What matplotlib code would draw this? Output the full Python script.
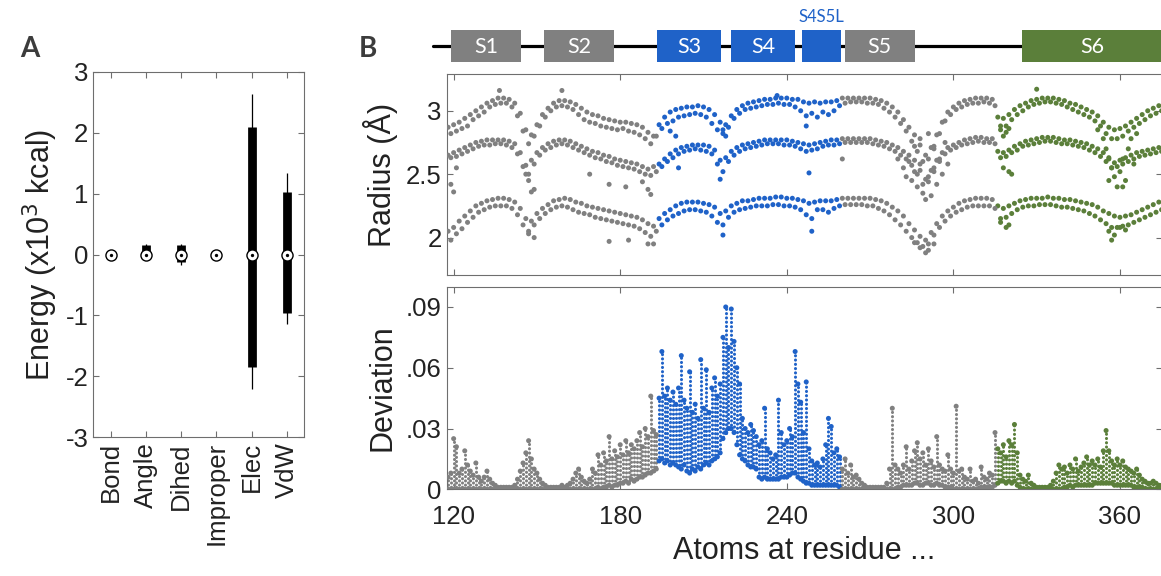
import numpy as np
import matplotlib
matplotlib.use("Agg")
import matplotlib.pyplot as plt
from matplotlib.patches import Rectangle

plt.rcParams['font.family'] = ['Liberation Sans', 'DejaVu Sans']

GRAY = '#808080'
BLUE = '#1f62c8'
GREEN = '#5b7f3a'
AXC = '#6e6e6e'

# ---------------- panel A: energy terms (x10^3 kcal) ----------------
energy_terms = ['Bond', 'Angle', 'Dihed', 'Improper', 'Elec', 'VdW']
box_lo = [-0.01, -0.03, -0.12, -0.01, -1.84, -0.955]
box_hi = [0.01, 0.15, 0.15, 0.01, 2.09, 1.02]
whisk_lo = [-0.02, -0.05, -0.17, -0.02, -2.20, -1.14]
whisk_hi = [0.05, 0.18, 0.18, 0.03, 2.63, 1.33]
medians = [0, 0, 0, 0, 0, 0]

# ---------------- panel B: domains ----------------
dom_names = ['S1', 'S2', 'S3', 'S4', '', 'S5', 'S6']
dom_start = [119.1, 152.6, 193.1, 219.9, 245.3, 260.8, 324.8]
dom_end = [144.1, 177.8, 216.4, 243.0, 259.6, 286.2, 385.0]
dom_colors = [GRAY, GRAY, BLUE, BLUE, BLUE, GRAY, GREEN]
linker_name = 'S4S5L'

# residue ranges coloured by domain group
seg_edges = [194, 260, 316]
seg_colors = [GRAY, BLUE, GRAY, GREEN]

# ---------------- radius bands (Angstrom) ----------------
res_even = np.arange(118, 375, 2)
res_odd = np.arange(119, 376, 2)

top_hi = [2.87, 2.89, 2.91, 2.94, 2.97, 3.00, 3.03, 3.06, 3.08, 3.10, 3.10, 3.09, 3.06, 2.98, 2.85, 2.81,
          2.89, 2.97, 3.02, 3.06, 3.08, 3.08, 3.07, 3.05, 3.02, 2.99, 2.97, 2.96, 2.94, 2.93, 2.92, 2.91,
          2.91, 2.90, 2.89, 2.87, 2.83, 2.80, 2.89, 2.95, 2.99, 3.01, 3.02, 3.03, 3.03, 3.04, 3.03, 3.01,
          2.97, 2.91, 2.89, 2.96, 3.01, 3.04, 3.06, 3.07, 3.08, 3.09, 3.09, 3.10, 3.10, 3.10, 3.09, 3.09,
          3.07, 3.06, 3.07, 3.06, 3.07, 3.07, 3.08, 3.10, 3.10, 3.10, 3.10, 3.10, 3.10, 3.09, 3.08, 3.06,
          3.03, 2.99, 2.93, 2.87, 2.81, 2.73, 2.65, 2.71, 2.81, 2.91, 2.99, 3.03, 3.06, 3.08, 3.09, 3.10,
          3.10, 3.10, 3.09, 2.95, 2.94, 2.97, 3.01, 3.04, 3.06, 3.08, 3.09, 3.10, 3.10, 3.10, 3.09, 3.08,
          3.06, 3.05, 3.03, 3.01, 2.99, 2.96, 2.91, 2.87, 2.85, 2.86, 2.88, 2.91, 2.94, 2.97, 3.00, 3.02,
          3.04]
top_lo = [2.82, 2.84, 2.86, 2.88, 2.93, 2.96, 2.99, 3.03, 3.05, 3.06, 3.06, 3.03, 2.96, 2.84, 2.74, 2.80,
          2.88, 2.95, 3.00, 3.03, 3.04, 3.03, 3.01, 2.97, 2.93, 2.91, 2.90, 2.88, 2.87, 2.86, 2.85, 2.86,
          2.84, 2.83, 2.81, 2.78, 2.74, 2.80, 2.86, 2.90, 2.92, 2.95, 2.96, 2.97, 2.98, 2.97, 2.95, 2.90,
          2.85, 2.82, 2.87, 2.94, 2.98, 3.01, 3.02, 3.03, 3.04, 3.05, 3.05, 3.06, 3.05, 3.05, 3.03, 3.00,
          2.96, 2.98, 2.95, 2.99, 2.97, 3.00, 3.04, 3.06, 3.07, 3.07, 3.07, 3.06, 3.06, 3.05, 3.02, 2.99,
          2.95, 2.90, 2.84, 2.76, 2.68, 2.60, 2.62, 2.72, 2.82, 2.92, 2.97, 3.01, 3.03, 3.05, 3.06, 3.06,
          3.07, 3.06, 3.04, 2.88, 2.88, 2.93, 2.97, 3.00, 3.03, 3.05, 3.06, 3.07, 3.07, 3.06, 3.05, 3.03,
          3.01, 2.99, 2.97, 2.95, 2.92, 2.88, 2.82, 2.78, 2.78, 2.80, 2.84, 2.87, 2.90, 2.93, 2.96, 2.98,
          3.00]
mid_hi = [2.65, 2.67, 2.69, 2.71, 2.73, 2.75, 2.76, 2.77, 2.77, 2.77, 2.77, 2.76, 2.74, 2.67, 2.57, 2.61,
          2.67, 2.71, 2.74, 2.76, 2.77, 2.77, 2.76, 2.74, 2.72, 2.70, 2.68, 2.67, 2.65, 2.64, 2.62, 2.61,
          2.60, 2.59, 2.58, 2.56, 2.54, 2.56, 2.58, 2.62, 2.66, 2.69, 2.71, 2.72, 2.73, 2.73, 2.73, 2.72,
          2.69, 2.61, 2.63, 2.68, 2.71, 2.73, 2.74, 2.75, 2.76, 2.77, 2.77, 2.77, 2.77, 2.77, 2.76, 2.75,
          2.74, 2.73, 2.74, 2.75, 2.76, 2.77, 2.77, 2.78, 2.78, 2.78, 2.78, 2.78, 2.78, 2.77, 2.76, 2.75,
          2.73, 2.71, 2.68, 2.65, 2.61, 2.53, 2.46, 2.53, 2.61, 2.67, 2.71, 2.73, 2.75, 2.77, 2.78, 2.79,
          2.79, 2.78, 2.78, 2.68, 2.67, 2.69, 2.72, 2.74, 2.76, 2.77, 2.78, 2.79, 2.79, 2.79, 2.78, 2.77,
          2.77, 2.76, 2.75, 2.74, 2.72, 2.70, 2.67, 2.63, 2.59, 2.61, 2.63, 2.65, 2.67, 2.68, 2.69, 2.70,
          2.71]
mid_lo = [2.63, 2.64, 2.66, 2.68, 2.70, 2.72, 2.73, 2.73, 2.74, 2.74, 2.73, 2.71, 2.66, 2.56, 2.50, 2.58,
          2.65, 2.69, 2.71, 2.73, 2.74, 2.73, 2.71, 2.69, 2.67, 2.65, 2.63, 2.62, 2.60, 2.59, 2.57, 2.56,
          2.55, 2.54, 2.52, 2.50, 2.49, 2.52, 2.56, 2.60, 2.63, 2.66, 2.68, 2.69, 2.70, 2.69, 2.68, 2.66,
          2.58, 2.52, 2.60, 2.65, 2.68, 2.70, 2.71, 2.72, 2.73, 2.74, 2.74, 2.74, 2.73, 2.73, 2.72, 2.70,
          2.68, 2.69, 2.70, 2.72, 2.73, 2.73, 2.74, 2.75, 2.75, 2.75, 2.75, 2.75, 2.74, 2.73, 2.72, 2.70,
          2.68, 2.65, 2.62, 2.57, 2.50, 2.42, 2.44, 2.52, 2.60, 2.66, 2.69, 2.71, 2.73, 2.74, 2.75, 2.76,
          2.75, 2.75, 2.74, 2.63, 2.64, 2.67, 2.69, 2.72, 2.73, 2.74, 2.75, 2.76, 2.76, 2.75, 2.74, 2.74,
          2.73, 2.72, 2.71, 2.69, 2.67, 2.64, 2.60, 2.55, 2.56, 2.58, 2.60, 2.62, 2.64, 2.65, 2.66, 2.67,
          2.68]
low_hi = [2.05, 2.08, 2.13, 2.17, 2.21, 2.25, 2.27, 2.29, 2.30, 2.31, 2.31, 2.30, 2.28, 2.23, 2.15, 2.13,
          2.19, 2.23, 2.26, 2.29, 2.30, 2.31, 2.30, 2.28, 2.27, 2.25, 2.24, 2.23, 2.22, 2.21, 2.20, 2.19,
          2.18, 2.17, 2.16, 2.14, 2.11, 2.09, 2.15, 2.19, 2.22, 2.25, 2.27, 2.28, 2.28, 2.28, 2.27, 2.26,
          2.24, 2.19, 2.21, 2.25, 2.27, 2.29, 2.29, 2.30, 2.31, 2.31, 2.31, 2.32, 2.32, 2.31, 2.31, 2.30,
          2.29, 2.27, 2.28, 2.29, 2.29, 2.29, 2.30, 2.31, 2.31, 2.31, 2.31, 2.31, 2.31, 2.30, 2.29, 2.27,
          2.24, 2.21, 2.17, 2.11, 2.06, 2.01, 1.98, 2.04, 2.11, 2.17, 2.21, 2.24, 2.27, 2.29, 2.30, 2.31,
          2.31, 2.31, 2.30, 2.25, 2.23, 2.25, 2.27, 2.29, 2.30, 2.31, 2.31, 2.31, 2.32, 2.31, 2.31, 2.30,
          2.30, 2.29, 2.28, 2.27, 2.26, 2.24, 2.21, 2.19, 2.17, 2.16, 2.17, 2.18, 2.20, 2.22, 2.24, 2.26,
          2.28]
low_lo = [1.98, 2.03, 2.07, 2.12, 2.16, 2.20, 2.22, 2.24, 2.25, 2.25, 2.25, 2.23, 2.18, 2.10, 2.05, 2.10,
          2.15, 2.19, 2.22, 2.24, 2.25, 2.24, 2.22, 2.20, 2.19, 2.18, 2.16, 2.15, 2.14, 2.13, 2.12, 2.11,
          2.10, 2.09, 2.07, 2.04, 2.01, 2.05, 2.10, 2.14, 2.17, 2.19, 2.21, 2.22, 2.22, 2.21, 2.20, 2.17,
          2.12, 2.10, 2.16, 2.20, 2.22, 2.23, 2.24, 2.25, 2.25, 2.25, 2.26, 2.26, 2.25, 2.25, 2.24, 2.22,
          2.18, 2.15, 2.22, 2.22, 2.20, 2.23, 2.25, 2.26, 2.26, 2.26, 2.26, 2.25, 2.25, 2.23, 2.21, 2.18,
          2.14, 2.10, 2.05, 2.00, 1.96, 1.93, 1.95, 2.02, 2.08, 2.13, 2.17, 2.20, 2.22, 2.24, 2.25, 2.25,
          2.25, 2.25, 2.23, 2.15, 2.16, 2.19, 2.22, 2.24, 2.25, 2.25, 2.26, 2.26, 2.26, 2.25, 2.24, 2.24,
          2.23, 2.22, 2.21, 2.19, 2.17, 2.14, 2.11, 2.08, 2.08, 2.09, 2.10, 2.12, 2.14, 2.16, 2.18, 2.20,
          2.22]

# scattered atoms away from the bands
extra_res = [119, 120, 121, 136.5, 146, 147, 148, 149, 147, 149,
             169, 176, 182, 188, 190, 191, 176, 183, 190, 192,
             159, 198, 201, 200, 216, 217, 218, 217, 236.5, 248,
             249, 247, 260, 280, 282, 283, 284, 285, 286, 287,
             288, 289, 290, 291, 292, 293, 294, 295, 296, 297,
             298, 286, 288, 291, 293, 286, 288, 290, 291, 293,
             317, 318, 319, 320, 318, 320, 321, 317, 319, 320,
             330, 352, 354, 355, 356, 357, 358, 360, 361, 362,
             363, 364, 365, 366, 359, 356, 361, 356, 357, 358,
             360, 362]
extra_radius = [2.42, 2.36, 2.55, 3.16, 2.50, 2.45, 2.36, 2.38, 2.03, 2.00,
                2.50, 2.42, 2.40, 2.44, 2.38, 2.34, 1.97, 1.98, 1.95, 1.95,
                3.16, 2.84, 2.55, 2.80, 2.46, 2.02, 2.80, 2.85, 3.12, 2.51,
                2.05, 2.88, 2.62, 2.62, 2.55, 2.48, 2.60, 2.45, 2.52, 2.40,
                2.58, 2.35, 2.30, 2.48, 2.33, 2.55, 2.42, 2.62, 2.50, 2.75,
                2.58, 2.72, 2.78, 2.82, 2.70, 1.96, 1.92, 1.88, 1.90, 1.95,
                2.85, 2.80, 2.83, 2.86, 2.55, 2.52, 2.50, 2.12, 2.08, 2.10,
                3.17, 2.85, 2.78, 2.70, 2.62, 2.55, 2.48, 2.52, 2.62, 2.45,
                2.70, 2.78, 2.58, 2.82, 2.40, 2.45, 2.40, 2.05, 1.98, 2.02,
                2.08, 2.06]

# ---------------- deviation per residue (x1e-3) ----------------
res_all = np.arange(118, 376)
dev_hi = [6, 8,
          25, 21, 8, 10, 19, 12, 9, 7, 13, 6,
          4, 6, 9, 5, 3, 2, 1, 1, 1, 1,
          1, 1, 2, 5, 9, 13, 18, 24, 15, 10,
          8, 5, 3, 2, 1, 1, 1, 1, 1, 2,
          1, 2, 3, 5, 8, 10, 6, 4, 3, 5,
          10, 8, 17, 12, 18, 14, 26, 15, 19, 16,
          22, 17, 24, 18, 22, 20, 24, 28, 21, 30,
          26, 46, 29, 27, 45, 68, 46, 50, 44, 48,
          42, 50, 66, 44, 40, 58, 38, 42, 35, 64,
          40, 59, 38, 50, 55, 46, 52, 75, 90, 70,
          89, 73, 60, 52, 35, 30, 28, 32, 29, 26,
          22, 24, 40, 20, 18, 15, 17, 44, 28, 22,
          24, 30, 26, 68, 52, 43, 28, 53, 20, 14,
          12, 13, 11, 15, 22, 35, 31, 18, 20, 16,
          10, 15, 8, 12, 6, 7, 5, 3, 2, 1,
          1, 1, 1, 1, 1, 1, 3, 10, 40, 12,
          10, 8, 12, 21, 10, 14, 19, 23, 15, 18,
          12, 20, 14, 11, 26, 12, 10, 9, 17, 10,
          8, 41, 9, 10, 6, 5, 10, 4, 5, 3,
          11, 6, 5, 8, 7, 28, 20, 18, 22, 16,
          24, 22, 32, 18, 7, 5, 4, 7, 3, 2,
          1, 1, 1, 1, 1, 2, 4, 8, 12, 10,
          11, 8, 12, 10, 15, 9, 11, 13, 16, 12,
          14, 12, 15, 11, 19, 29, 19, 14, 12, 15,
          12, 14, 11, 10, 9, 8, 10, 7, 5, 4,
          3, 3, 4, 3, 2, 2]
dev_lo = ([0, 0] + [0] * 50 +
          [0, 0, 1, 0, 1, 1, 2, 1, 2, 2,
           3, 3, 4, 3, 5, 4, 5, 6, 6, 7,
           8, 8, 9, 10, 14, 15, 13, 14, 12, 13,
           12, 11, 10, 12, 9, 8, 10, 9, 11, 10,
           12, 13, 12, 14, 15, 16, 18, 25, 28, 30,
           30, 28, 22, 17, 15, 14, 12, 11, 11, 10,
           6, 5, 6, 5, 5, 5, 5, 5, 6, 6,
           6, 7, 8, 8, 6, 5, 4, 3, 3, 2,
           2, 2, 2, 2, 2, 2, 2, 2, 2, 1] +
          [0] * 20 +
          [1, 1, 2, 2, 2, 2, 3, 3, 2, 2,
           3, 3, 2, 2, 3, 2, 2, 1, 1, 1,
           0, 0, 0, 0, 0, 0, 0, 0, 0, 0,
           1, 1, 1, 1, 1, 2, 3, 4, 4, 3,
           4, 3, 4, 2, 1, 0, 0, 0, 0, 0] +
          [0] * 10 +
          [1, 1, 2, 1, 2, 2, 2, 2, 2, 2,
           2, 3, 3, 3, 3, 3, 3, 3, 2, 2,
           2, 2, 2, 2, 2, 1, 1, 1, 1, 0] +
          [0] * 6)


def group_color(r):
    for edge, col in zip(seg_edges, seg_colors):
        if r < edge:
            return col
    return seg_colors[-1]


def style_axes(ax):
    for sp in ax.spines.values():
        sp.set_color(AXC)
        sp.set_linewidth(0.8)
    ax.tick_params(direction='in', length=4, width=0.8, color=AXC,
                   top=True, right=True, labelsize=18.5, labelcolor='#222222')


W, H = 1161.0, 576.0
LABEL = 22
fig = plt.figure(figsize=(11.61, 5.76), dpi=100)

# ---------------- panel A ----------------
axA = fig.add_axes([93.3 / W, 1 - 437.3 / H, 211 / W, 365.6 / H])
pos = np.arange(1, len(energy_terms) + 1)
axA.vlines(pos, whisk_lo, whisk_hi, color='k', lw=0.9)
axA.vlines(pos, box_lo, box_hi, color='k', lw=6.3, capstyle='butt')
axA.plot(pos, medians, 'o', ms=8, mfc='white', mec='k', mew=1.0)
axA.plot(pos, medians, 'o', ms=2.4, mfc='k', mec='k', mew=0)
axA.set_xlim(0.5, 6.5)
axA.set_ylim(-3, 3)
axA.set_yticks([3, 2, 1, 0, -1, -2, -3])
axA.set_yticklabels(['3', '2', '1', '0', '-1', '-2', '-3'])
axA.set_xticks(pos)
axA.set_xticklabels(energy_terms, rotation=90)
axA.set_ylabel('Energy (x10$^3$ kcal)', fontsize=LABEL, color='#222222', labelpad=4)
style_axes(axA)
fig.text(30 / W, 1 - 49 / H, 'A', ha='center', va='center', fontsize=20,
         fontweight='bold', family=['Lato', 'DejaVu Sans'], color='#3c3c3c')

# ---------------- panel B ----------------
xl = (117.5, 375)
bx = 446.7 / W
bw = (1161.6 - 446.7) / W

ax_dom = fig.add_axes([bx, 1 - 62 / H, bw, 32 / H])
ax_dom.set_xlim(*xl)
ax_dom.set_ylim(0, 1)
ax_dom.axis('off')
ax_dom.plot([112.6, 385], [0.5, 0.5], color='k', lw=2.3, solid_capstyle='round',
            clip_on=False, zorder=1)
for name, s, e, c in zip(dom_names, dom_start, dom_end, dom_colors):
    ax_dom.add_patch(Rectangle((s, 0), e - s, 1, facecolor=c, edgecolor='none',
                               clip_on=False, zorder=2))
    if name:
        xc = (s + e) / 2 if name != 'S6' else 350
        ax_dom.text(xc, 0.47, name, ha='center', va='center', color='white',
                    fontsize=15.5, family=['Lato', 'DejaVu Sans'], zorder=3, clip_on=False)
ax_dom.text((dom_start[4] + dom_end[4]) / 2, 1.42, linker_name, ha='center', va='center',
            color=BLUE, fontsize=12, family=['Lato', 'DejaVu Sans'], clip_on=False)
fig.text(368 / W, 1 - 49 / H, 'B', ha='center', va='center', fontsize=20,
         fontweight='bold', family=['Lato', 'DejaVu Sans'], color='#3c3c3c')

# radius
ax_rad = fig.add_axes([bx, 1 - 275 / H, bw, 201 / H])
dot = 13
for xs, ys in [(res_even, top_hi), (res_odd, top_lo), (res_even, mid_hi),
               (res_odd, mid_lo), (res_even, low_hi), (res_odd, low_lo),
               (extra_res, extra_radius)]:
    ax_rad.scatter(xs, ys, s=dot, c=[group_color(r) for r in xs], linewidths=0, zorder=3)
ax_rad.set_xlim(*xl)
ax_rad.set_ylim(1.705, 3.29)
ax_rad.set_yticks([2, 2.5, 3])
ax_rad.set_yticklabels(['2', '2.5', '3'])
ax_rad.set_xticks([120, 180, 240, 300, 360])
ax_rad.tick_params(labelbottom=False)
ax_rad.set_ylabel('Radius (Å)', fontsize=LABEL, color='#222222', labelpad=6)
style_axes(ax_rad)

# deviation: stacked atoms drawn as dotted columns (alternating phase)
ax_dev = fig.add_axes([bx, 1 - 489.3 / H, bw, 202.6 / H])
dev_cols = [group_color(r) for r in res_all]
hi = np.array(dev_hi) / 1000.0
lo = np.array(dev_lo) / 1000.0
dash_styles = [(0, (0.05, 1.35)) if r % 2 == 0 else (0.7, (0.05, 1.35)) for r in res_all]
ax_dev.vlines(res_all, lo, hi, colors=dev_cols, lw=2.2, linestyles=dash_styles,
              capstyle='round', zorder=2)
ax_dev.scatter(res_all, hi, s=dot, c=dev_cols, linewidths=0, zorder=3)
ax_dev.scatter(res_all, lo, s=dot, c=dev_cols, linewidths=0, zorder=3)
ax_dev.set_xlim(*xl)
ax_dev.set_ylim(0, 0.1)
ax_dev.set_yticks([0, 0.03, 0.06, 0.09])
ax_dev.set_yticklabels(['0', '.03', '.06', '.09'])
ax_dev.set_xticks([120, 180, 240, 300, 360])
ax_dev.set_xlabel('Atoms at residue ...', fontsize=LABEL, color='#222222', labelpad=5)
ax_dev.set_ylabel('Deviation', fontsize=LABEL, color='#222222', labelpad=6)
style_axes(ax_dev)
ax_dev.tick_params(axis='x', pad=11)

fig.savefig('out.png', dpi=100)
